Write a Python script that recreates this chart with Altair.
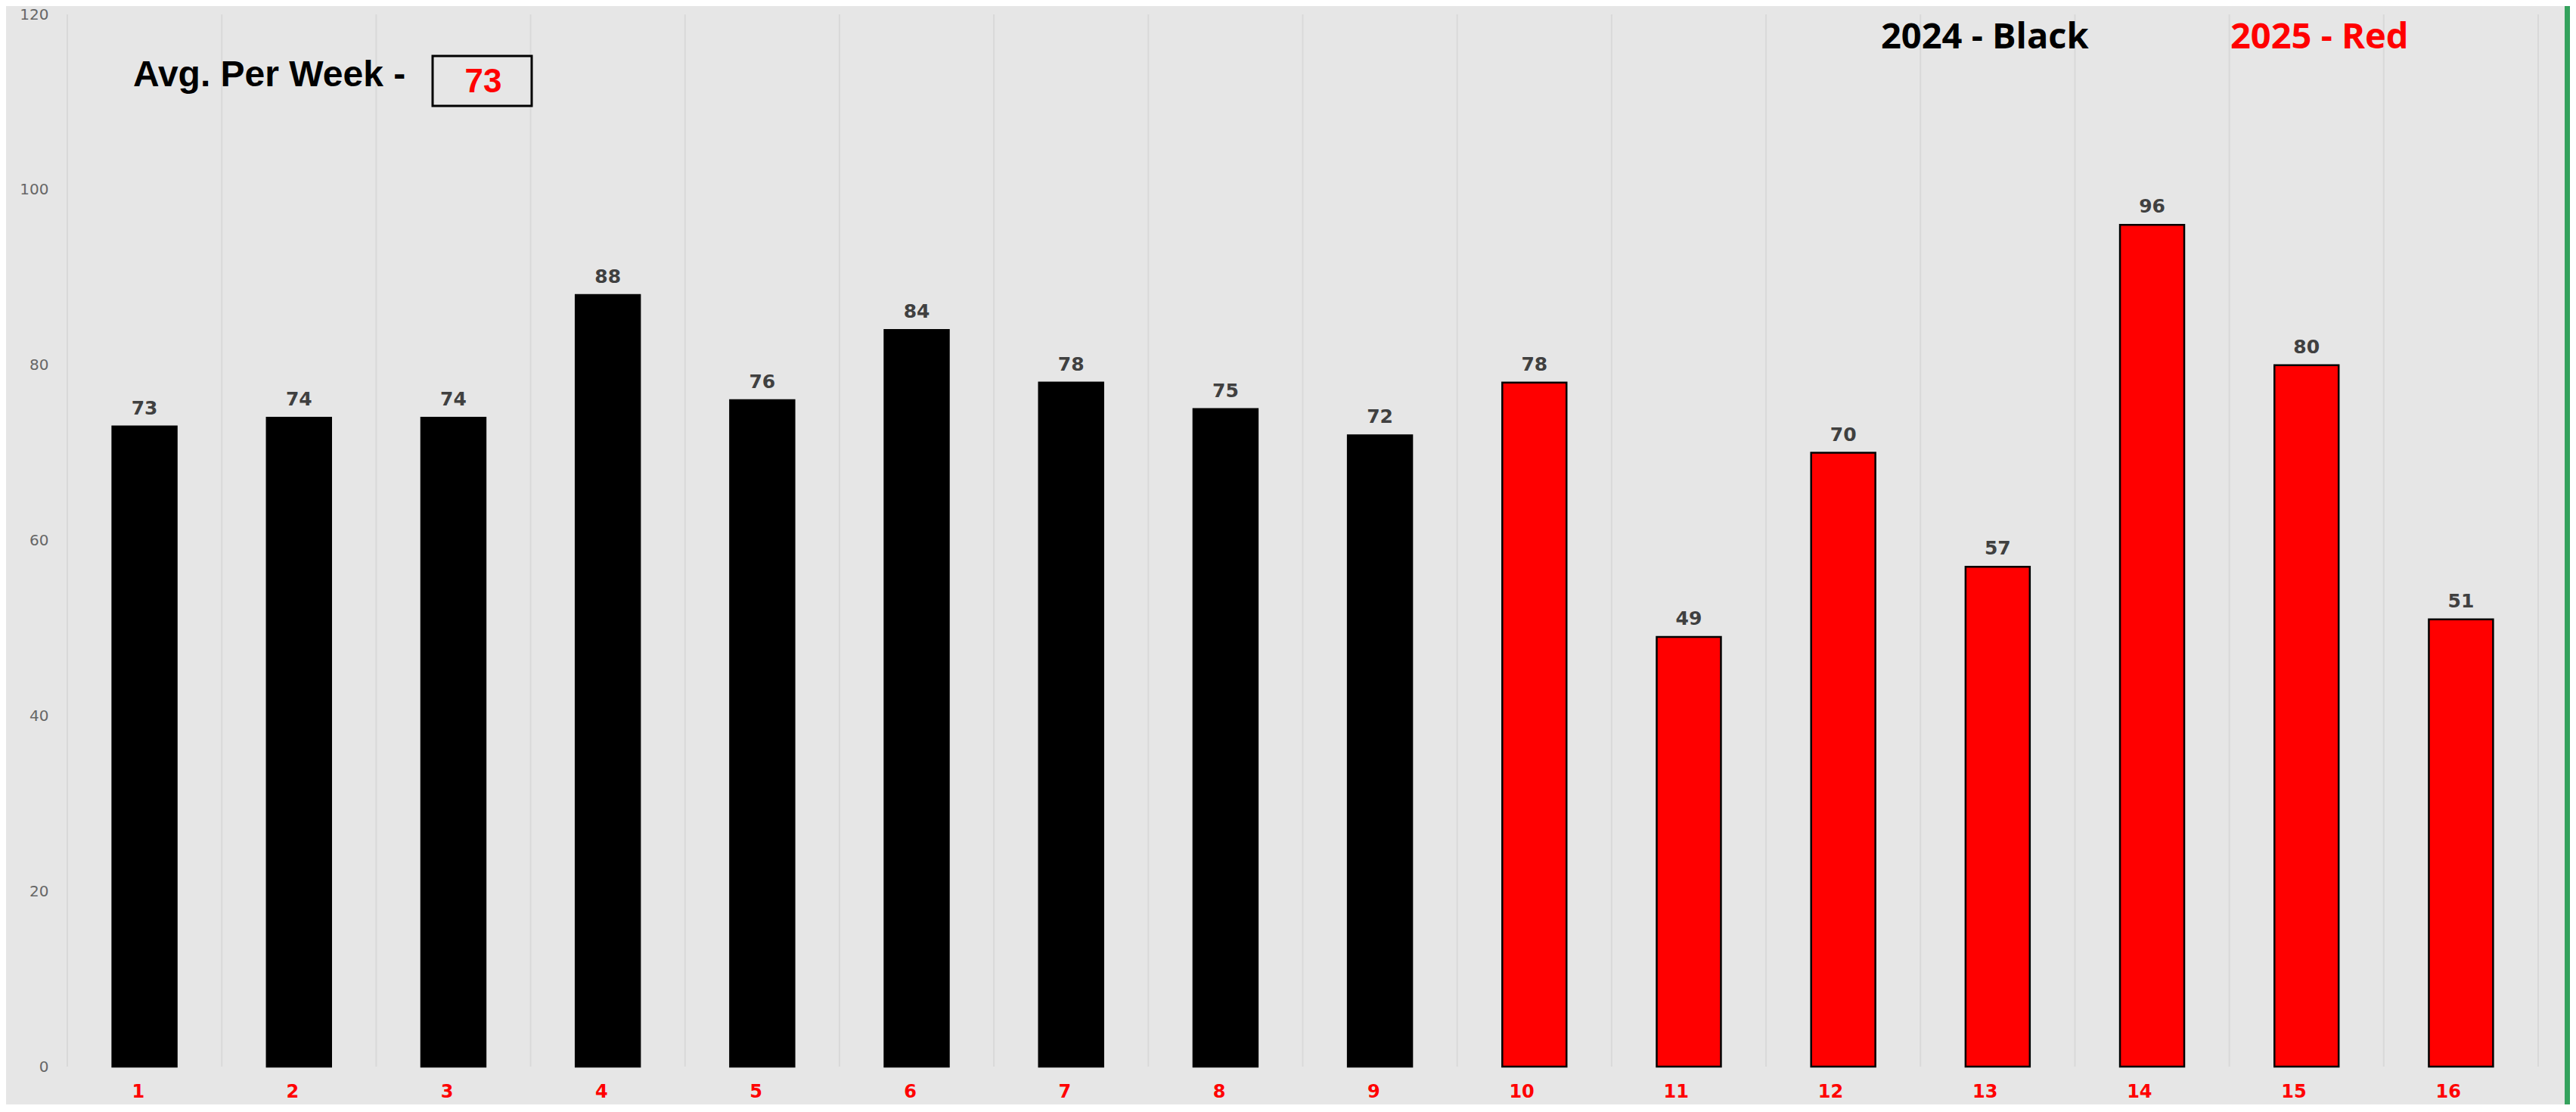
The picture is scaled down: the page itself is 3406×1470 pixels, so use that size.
import altair as alt
import pandas as pd

# ---- data ----
weeks = ["1", "2", "3", "4", "5", "6", "7", "8", "9", "10", "11", "12", "13", "14", "15", "16"]
counts = [73, 74, 74, 88, 76, 84, 78, 75, 72, 78, 49, 70, 57, 96, 80, 51]
years = ["2024"] * 9 + ["2025"] * 7
y_ticks = [0, 20, 40, 60, 80, 100, 120]
year_domain = ["2024", "2025"]
year_colors = ["#000000", "#ff0000"]
title_text = "Avg. Per Week -"
legend_2024 = "2024 - Black"
legend_2025 = "2025 - Red"

avg_value = str(int(round(sum(counts) / len(counts))))

df = pd.DataFrame({"week": weeks, "count": counts, "year": years})

W = 3267
H = 1391
BG = "#e6e6e6"

x_enc = alt.X(
    "week:O",
    sort=weeks,
    scale=alt.Scale(paddingInner=0, paddingOuter=0),
    axis=alt.Axis(
        title=None,
        labelAngle=0,
        labelColor="#ff0000",
        labelFont="DejaVu Sans",
        labelFontWeight="bold",
        labelFontSize=24,
        labelPadding=33,
        ticks=False,
        domain=False,
        grid=False,
    ),
)
y_enc = alt.Y(
    "count:Q",
    scale=alt.Scale(domain=[0, 120]),
    axis=alt.Axis(
        title=None,
        values=y_ticks,
        labelColor="#666666",
        labelFont="DejaVu Sans",
        labelFontSize=20,
        labelPadding=25,
        ticks=False,
        domain=False,
        grid=False,
    ),
)

base = alt.Chart(df)

grid = base.mark_rule(color="#d9d9d9", strokeWidth=2).encode(
    x=alt.X("week:O", sort=weeks, bandPosition=0),
    y=alt.value(0),
    y2=alt.value(H),
)
grid_right = base.mark_rule(color="#d9d9d9", strokeWidth=2).encode(
    x=alt.value(W), y=alt.value(0), y2=alt.value(H)
)

bars = base.mark_bar(
    width=alt.RelativeBandSize(0.416), stroke="#000000", strokeWidth=2.5
).encode(
    x=x_enc,
    y=y_enc,
    color=alt.Color(
        "year:N",
        scale=alt.Scale(domain=year_domain, range=year_colors),
        legend=None,
    ),
)

value_labels = base.mark_text(
    font="DejaVu Sans",
    fontWeight="bold",
    fontSize=25,
    color="#404040",
    baseline="bottom",
    dy=-11,
).encode(x=alt.X("week:O", sort=weeks), y="count:Q", text="count:Q")

title_mark = alt.Chart(pd.DataFrame({"t": [title_text]})).mark_text(
    font="Liberation Sans",
    fontWeight="bold",
    fontSize=48,
    color="#000000",
    align="left",
    baseline="middle",
).encode(x=alt.value(87), y=alt.value(81), text="t:N")

box = alt.Chart(pd.DataFrame({"v": [avg_value]})).mark_rect(
    fill=BG, stroke="#000000", strokeWidth=3
).encode(x=alt.value(483), x2=alt.value(614), y=alt.value(55), y2=alt.value(121))

avg_mark = alt.Chart(pd.DataFrame({"v": [avg_value]})).mark_text(
    font="Liberation Sans",
    fontWeight="bold",
    fontSize=44,
    color="#ff0000",
    align="center",
    baseline="middle",
).encode(x=alt.value(550), y=alt.value(90), text="v:N")

leg1 = alt.Chart(pd.DataFrame({"t": [legend_2024]})).mark_text(
    font="Open Sans",
    fontWeight="bold",
    fontSize=47,
    color="#000000",
    align="left",
    baseline="middle",
).encode(x=alt.value(2398), y=alt.value(31), text="t:N")

leg2 = alt.Chart(pd.DataFrame({"t": [legend_2025]})).mark_text(
    font="Open Sans",
    fontWeight="bold",
    fontSize=47,
    color="#ff0000",
    align="left",
    baseline="middle",
).encode(x=alt.value(2860), y=alt.value(31), text="t:N")

green = base.mark_rule(color="#35a25d", strokeWidth=12, strokeCap="round").encode(
    x=alt.value(W + 41), y=alt.value(-11), y2=alt.value(H + 60)
)

chart = (
    alt.layer(grid, grid_right, bars, value_labels, title_mark, box, avg_mark, leg1, leg2, green)
    .properties(
        width=W,
        height=H,
        background=BG,
        autosize=alt.AutoSizeParams(type="none"),
        padding={"left": 81, "top": 11, "right": 42, "bottom": 50},
    )
    .configure_view(stroke=None)
)

chart.save("out.html", embed_options={"renderer": "svg", "actions": False})
